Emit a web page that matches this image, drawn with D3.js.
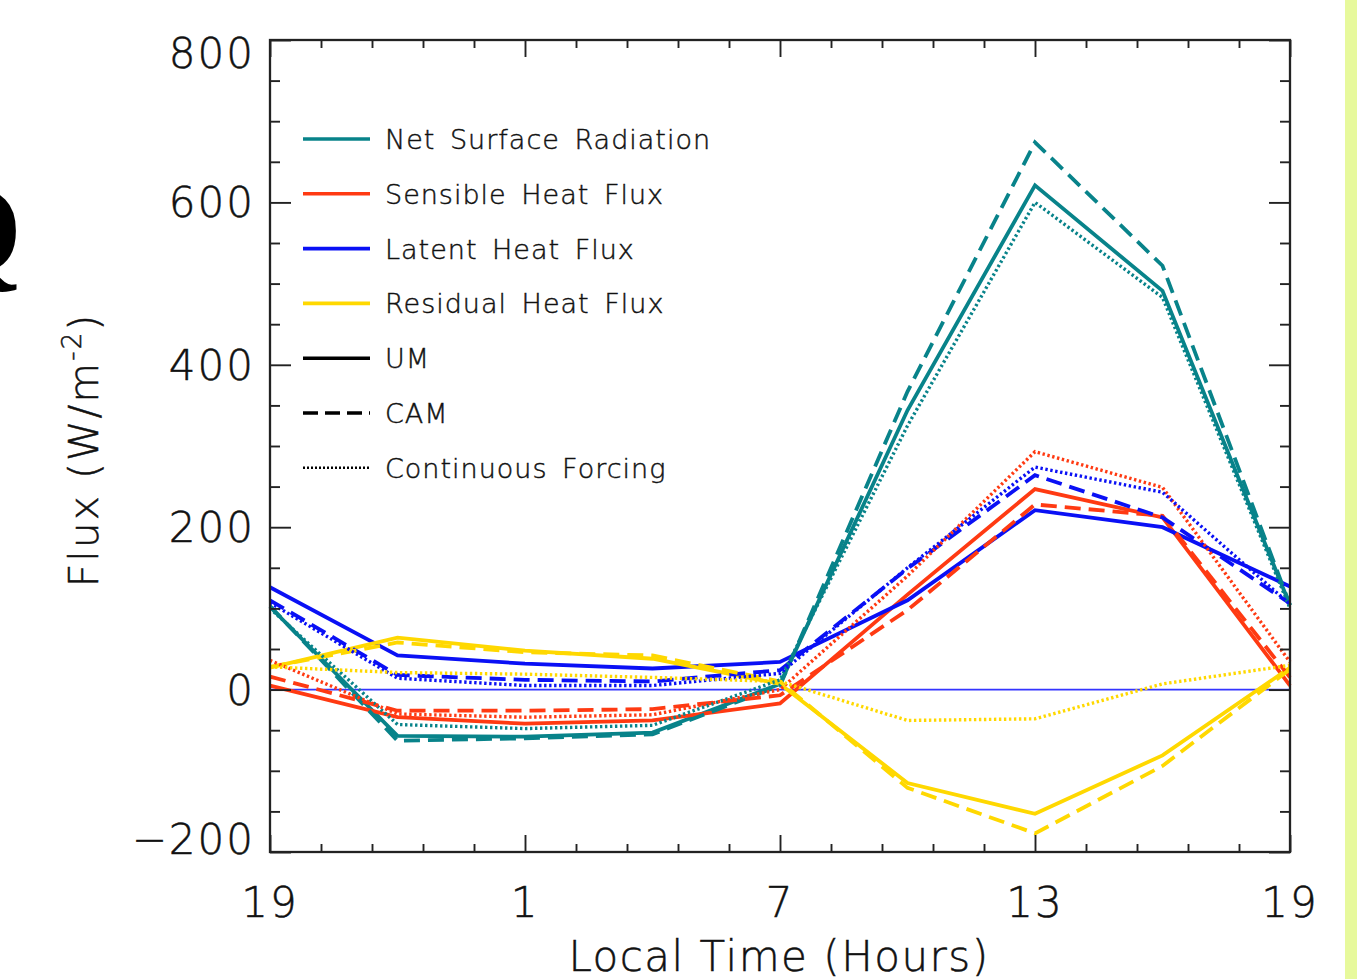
<!DOCTYPE html>
<html>
<head>
<meta charset="utf-8">
<script src="https://cdn.jsdelivr.net/npm/d3@7/dist/d3.min.js"></script>
<style>
  html, body { margin: 0; padding: 0; background: #ffffff; }
  svg { display: block; }
  text { font-family: "DejaVu Sans", "Liberation Sans", sans-serif; fill: #111; }
</style>
</head>
<body>
<svg id="chart" width="1357" height="979"></svg>
<script>
// ---------------- data ----------------
const timeLabels = ["19", "22", "1", "4", "7", "10", "13", "16", "19"]; // 3-hourly local time
const hoursSince19 = [0, 3, 6, 9, 12, 15, 18, 21, 24];
const xTickValues = [0, 6, 12, 18, 24];
const xTickLabels = ["19", "1", "7", "13", "19"];
const yTickValues = [-200, 0, 200, 400, 600, 800];
const yTickLabels = ["\u2212200", "0", "200", "400", "600", "800"];

const fluxNames = ["Net Surface Radiation", "Sensible Heat Flux", "Latent Heat Flux", "Residual Heat Flux"];
const runNames = ["UM", "CAM", "Continuous Forcing"];

// Net surface radiation
const netUM  = [102, -57, -58, -53,   7, 344, 621, 491, 104];
const netCAM = [103, -63, -60, -55,   5, 367, 674, 522, 104];
const netCF  = [100, -43, -48, -44,  12, 325, 600, 483, 100];
// Sensible heat flux
const shUM   = [  5, -34, -42, -38, -17, 117, 247, 212,   5];
const shCAM  = [ 16, -26, -26, -24,  -7,  98, 228, 214,  15];
const shCF   = [ 36, -30, -34, -31,   0, 140, 293, 249,  34];
// Latent heat flux
const lhUM   = [126,  42,  32,  26,  34, 110, 221, 200, 127];
const lhCAM  = [110,  18,  12,  10,  24, 149, 264, 212, 106];
const lhCF   = [107,  14,   5,   5,  20, 150, 274, 243, 105];
// Residual heat flux
const resUM  = [ 27,  64,  48,  38,   7, -115, -153, -81,  27];
const resCAM = [ 28,  58,  46,  42,  10, -121, -177, -94,  25];
const resCF  = [ 28,  21,  19,  15,  10,  -38,  -36,   7,  30];

// ---------------- styles ----------------
const colors = ["#08838a", "#ff3a12", "#0a10f5", "#ffd800"];
const dashes = [null, "16,8", "2.4,2.6"];

const seriesTable = [
  [netUM, netCAM, netCF],
  [shUM, shCAM, shCF],
  [lhUM, lhCAM, lhCF],
  [resUM, resCAM, resCF]
];

// ---------------- layout ----------------
const svg = d3.select("#chart");
const L = 270, R = 1290, T = 40, B = 852;

const x = d3.scaleLinear().domain([0, 24]).range([L, R]);
const y = d3.scaleLinear().domain([-200, 800]).range([B, T]);

// right-side green band
svg.append("rect").attr("x", 1345).attr("y", 0).attr("width", 12).attr("height", 979).attr("fill", "#e7f99c");

// cropped panel letter at left edge
svg.append("text").attr("x", 22).attr("y", 272).attr("text-anchor", "end")
  .style("font-family", "'Liberation Serif', 'DejaVu Serif', serif").style("font-weight", "bold")
  .style("font-size", "124px").style("fill", "#000").text("Q");

// zero line
svg.append("line").attr("x1", L).attr("x2", R).attr("y1", y(0)).attr("y2", y(0))
  .attr("stroke", "#3434ff").attr("stroke-width", 1.8);

// data lines
const line = d3.line().x((d, i) => x(hoursSince19[i])).y(d => y(d));
const g = svg.append("g");
for (let r = 0; r < 3; r++) {
  for (let f = 0; f < 4; f++) {
    g.append("path").datum(seriesTable[f][r])
      .attr("d", line)
      .attr("fill", "none")
      .attr("stroke", colors[f])
      .attr("stroke-width", r === 2 ? 3.4 : 3.8)
      .attr("stroke-linejoin", "miter")
      .attr("stroke-dasharray", dashes[r]);
  }
}

// axes (box with inward ticks)
const axisColor = "#222";
const xMinor = d3.range(0, 24.001, 1.2).filter(v => xTickValues.every(t => Math.abs(t - v) > 1e-6));
const yMinor = d3.range(-200, 800.001, 50).filter(v => yTickValues.indexOf(v) < 0);

function inwardAxis(axisFn, scale, ticks, size, transform) {
  const a = axisFn(scale).tickValues(ticks).tickSize(size).tickFormat("");
  const sel = svg.append("g").attr("transform", transform).call(a);
  sel.select(".domain").remove();
  sel.selectAll("line").attr("stroke", axisColor).attr("stroke-width", 1.9);
  return sel;
}
inwardAxis(d3.axisTop, x, xTickValues, 17, `translate(0,${B})`);
inwardAxis(d3.axisTop, x, xMinor, 8, `translate(0,${B})`);
inwardAxis(d3.axisBottom, x, xTickValues, 17, `translate(0,${T})`);
inwardAxis(d3.axisBottom, x, xMinor, 8, `translate(0,${T})`);
inwardAxis(d3.axisRight, y, yTickValues, 21, `translate(${L},0)`);
inwardAxis(d3.axisRight, y, yMinor, 10, `translate(${L},0)`);
inwardAxis(d3.axisLeft, y, yTickValues, 21, `translate(${R},0)`);
inwardAxis(d3.axisLeft, y, yMinor, 10, `translate(${R},0)`);

svg.append("rect").attr("x", L).attr("y", T).attr("width", R - L).attr("height", B - T)
  .attr("fill", "none").attr("stroke", axisColor).attr("stroke-width", 2.3);

// tick labels (end labels nudged inward as in the reference)
const lblStyle = s => s.style("font-size", "42px").style("font-weight", "200").style("letter-spacing", "2px")
  .style("stroke", "#111").style("stroke-width", "0.5px");
yTickValues.forEach((v, i) => {
  let yy = y(v) + 15;
  if (v === 800) yy += 13;
  if (v === -200) yy -= 13;
  svg.append("text").attr("x", 255).attr("y", yy).attr("text-anchor", "end")
    .call(lblStyle).text(yTickLabels[i]);
});
xTickValues.forEach((v, i) => {
  svg.append("text").attr("x", x(v)).attr("y", 917).attr("text-anchor", "middle")
    .call(lblStyle).text(xTickLabels[i]);
});

// axis titles
svg.append("text").attr("x", 779).attr("y", 971).attr("text-anchor", "middle")
  .style("font-size", "42px").style("font-weight", "200").style("letter-spacing", "1.5px")
  .style("stroke", "#111").style("stroke-width", "0.5px")
  .text("Local Time (Hours)");

const yt = svg.append("text").attr("transform", "translate(98,450) rotate(-90)").attr("text-anchor", "middle")
  .style("font-size", "41px").style("font-weight", "200").style("letter-spacing", "2px")
  .style("stroke", "#111").style("stroke-width", "0.5px");
yt.append("tspan").text("Flux (W/m");
yt.append("tspan").attr("dy", -17).style("font-size", "26px").text("-2");
yt.append("tspan").attr("dy", 17).text(")");

// legend
const legX1 = 303, legX2 = 370, legText = 385, legY0 = 139, legDy = 54.8;
const legendItems = fluxNames.map((n, i) => ({ name: n, color: colors[i], dash: null }))
  .concat(runNames.map((n, i) => ({ name: n, color: "#000", dash: i === 1 ? "15,7" : (i === 2 ? "2,2" : null) })));
legendItems.forEach((it, i) => {
  const yy = legY0 + i * legDy;
  svg.append("line").attr("x1", legX1).attr("x2", legX2).attr("y1", yy).attr("y2", yy)
    .attr("stroke", it.color).attr("stroke-width", i === 6 ? 2.6 : 3.6)
    .attr("stroke-dasharray", it.dash);
  svg.append("text").attr("x", legText).attr("y", yy + 10)
    .style("font-size", "27px").style("font-weight", "200").style("letter-spacing", "1px").style("word-spacing", "5px")
    .style("stroke", "#111").style("stroke-width", "0.45px")
    .text(it.name);
});
</script>
</body>
</html>
